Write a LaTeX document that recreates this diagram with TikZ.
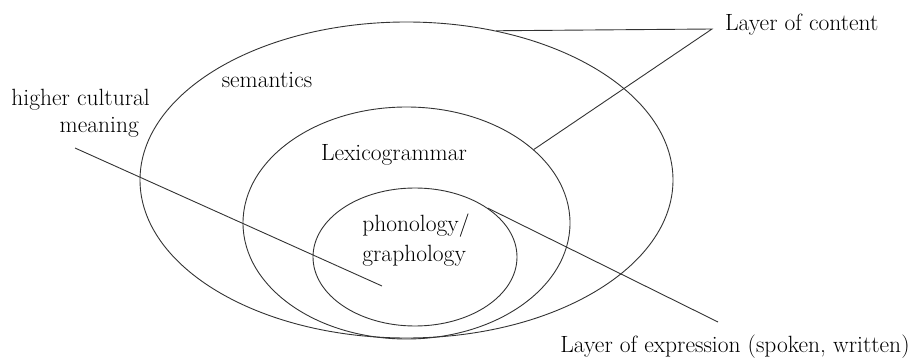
\documentclass[tikz,border=0pt]{standalone}
\usepackage{tikz}
\usetikzlibrary{shapes.geometric, positioning, calc}
\tikzset{
  layer/.style={ellipse, draw=black!80, line width=0.9pt, inner sep=0pt},
  lbl/.style={inner sep=0pt, font=\fontsize{23.5}{30}\selectfont},
  conn/.style={draw=black!80, line width=0.9pt}
}
\begin{document}
\begin{tikzpicture}[x=1pt, y=-1pt]
\useasboundingbox (0,0) rectangle (910,358);
\node (outer) [layer, minimum width=533pt, minimum height=316pt] at (406.5,180) {};
\node (mid)   [layer, minimum width=327pt, minimum height=232pt] at (406.5,223) {};
\node (inner) [layer, minimum width=204pt, minimum height=138pt] at (415,257)   {};

\node (sem)   [lbl] at (267,80)  {semantics};
\node (lex)   [lbl] at (394,155) {Lexicogrammar};
\node (phon)  [lbl, align=left] at (416,240) {phonology/\\graphology};
\node (hcm)   [lbl, font=\fontsize{23.5}{27}\selectfont, align=right, anchor=east]
              at (150,113) {higher cultural\\meaning\hspace*{11pt}};
\node (cont)  [lbl, anchor=west] at (725,25) {Layer of content};
\node (expr)  [lbl] at (735,347) {Layer of expression (spoken, written)};

\coordinate (cbend)  at (712,29);
\coordinate (xend)   at (718,322);
\coordinate (hstart) at (75,148);
\coordinate (hend)   at (382,286);

\draw [conn] (outer.59) -- (cbend) -- (mid.30);
\draw [conn] (inner.34) -- (xend);
\draw [conn] (hstart) -- (hend);
\end{tikzpicture}
\end{document}
